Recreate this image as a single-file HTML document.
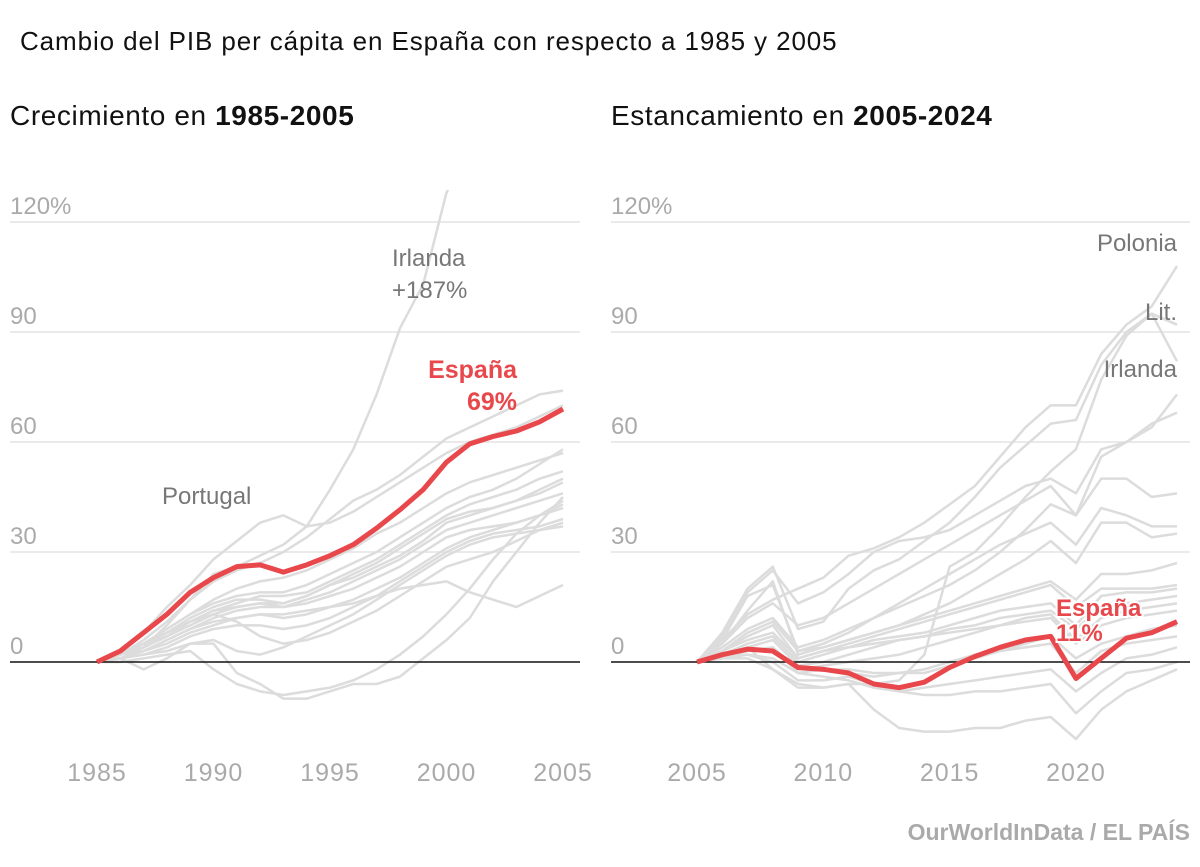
<!DOCTYPE html>
<html><head><meta charset="utf-8"><style>
body{margin:0;background:#fff;width:1200px;height:867px;overflow:hidden;font-family:"Liberation Sans",sans-serif}
svg{position:absolute;left:0;top:0}
</style></head><body>
<svg id="chart" width="1200" height="867">
<text x="20" y="50" font-size="26" letter-spacing="0.9" fill="#111">Cambio del PIB per cápita en España con respecto a 1985 y 2005</text>
<text x="10" y="125" font-size="28" letter-spacing="0.6" fill="#111">Crecimiento en <tspan font-weight="bold">1985-2005</tspan></text>
<text x="611" y="125" font-size="28" letter-spacing="0.6" fill="#111">Estancamiento en <tspan font-weight="bold">2005-2024</tspan></text>
<text x="1190" y="840" font-size="23" font-weight="bold" fill="#aaa" text-anchor="end">OurWorldInData / EL PAÍS</text>
<g id="left"></g><g id="right"></g>
</svg>
<script>
const yTicks=[0,30,60,90,120];
const yTickLabels=["0","30","60","90","120%"];
const leftYears=[1985,1986,1987,1988,1989,1990,1991,1992,1993,1994,1995,1996,1997,1998,1999,2000,2001,2002,2003,2004,2005];
const leftXTicks=[1985,1990,1995,2000,2005];
const leftSpain=[0,3,8,13,19,23,26,26.5,24.5,26.5,29,32,36.5,41.5,47,54.5,59.5,61.5,63,65.5,69];
const leftIreland=[0,2,4,10,17,24,26,29,32,37,47,58,73,91,103,128,140,150,160,175,187];
const leftPortugal=[0,3,8,15,21,28,33,38,40,37,38,41,45,49,53,57,60,62,64,67,70];
const leftGrey=[
[0,2,6,11,17,22,25,27,30,34,39,44,47,51,56,61,64,67,70,73,74],
[0,2,5,9,13,16,18,19,19,21,24,27,30,34,38,42,45,47,50,54,58],
[0,1,4,8,12,15,17,17,16,18,21,24,27,31,35,39,41,42,44,47,50],
[0,2,5,8,11,14,15,16,16,18,21,23,26,29,33,38,40,42,44,46,49],
[0,1,3,6,9,12,14,15,15,17,19,22,25,28,32,36,38,40,42,44,46],
[0,2,4,7,10,13,15,16,15,16,18,20,23,26,30,34,36,37,38,40,42],
[0,1,3,5,8,10,12,13,12,13,15,17,20,23,27,31,34,36,38,40,44],
[0,1,2,4,7,9,10,10,9,10,12,15,18,22,26,30,33,35,36,37,39],
[0,1,-2,1,5,6,3,2,4,7,10,13,17,21,25,29,32,34,35,36,37],
[0,2,4,8,11,13,11,7,5,6,8,11,14,18,22,26,28,30,33,36,38],
[0,1,3,6,9,11,12,13,13,14,15,16,18,20,21,22,19,17,15,18,21],
[0,1,2,3,5,5,-3,-6,-10,-10,-8,-6,-6,-4,1,6,12,22,30,38,45],
[0,0,1,2,3,-2,-6,-8,-9,-8,-7,-5,-2,2,7,13,20,28,35,40,43],
[0,2,5,9,13,17,20,22,23,25,28,31,35,38,42,46,49,51,53,55,57],
[0,1,4,7,11,14,16,18,18,19,22,25,28,32,36,40,43,45,47,50,52]];
const rightYears=[2005,2006,2007,2008,2009,2010,2011,2012,2013,2014,2015,2016,2017,2018,2019,2020,2021,2022,2023,2024];
const rightXTicks=[2005,2010,2015,2020];
const rightSpain=[0,2,3.5,3,-1.5,-2,-3,-6,-7,-5.5,-1.5,1.5,4,6,7,-4.5,1,6.5,8,11];
const rightPoland=[0,6,13,17,20,23,29,31,34,38,43,48,56,64,70,70,84,92,97,108];
const rightLit=[0,8,20,26,9,11,20,25,28,33,38,45,53,59,65,66,81,90,95,92];
const rightIreland=[0,2,4,-2,-6,-7,-6,-6,-5,2,26,30,37,45,52,58,77,89,95,82];
const rightGrey=[
[0,7,19,25,16,19,24,30,33,34,36,40,44,48,50,46,58,60,64,73],
[0,5,12,16,10,12,16,20,24,28,32,36,40,44,48,40,56,60,65,68],
[0,6,18,21,3,5,8,12,15,18,21,25,30,36,43,40,50,50,45,46],
[0,4,9,12,4,6,9,12,16,20,24,28,32,35,38,32,42,40,37,37],
[0,3,8,11,3,4,6,8,10,13,16,20,24,28,33,27,38,38,34,35],
[0,5,14,22,2,4,6,8,10,12,14,16,18,20,22,17,24,24,25,27],
[0,3,7,10,1,3,5,7,9,11,13,15,17,19,21,15,20,20,20,21],
[0,2,5,7,0,2,4,6,7,8,10,12,14,15,16,10,18,19,19,20],
[0,3,6,8,1,3,4,5,6,7,9,10,12,13,14,9,15,16,17,18],
[0,2,4,6,-1,0,2,4,6,7,8,9,10,12,13,6,12,14,15,16],
[0,1,3,4,-2,-1,0,1,2,4,6,8,10,11,12,5,10,12,13,14],
[0,1,3,4,-3,-2,-3,-4,-3,-2,0,2,3,4,5,-3,3,5,6,7],
[0,1,2,1,-3,-4,-5,-7,-8,-7,-6,-5,-4,-3,-2,-8,-3,1,2,4],
[0,1,2,0,-5,-5,-4,-6,-8,-9,-9,-8,-8,-7,-6,-14,-8,-3,-2,0],
[0,1,1,-2,-7,-7,-6,-13,-18,-19,-19,-18,-18,-16,-15,-21,-13,-8,-5,-2],
[0,2,4,3,-2,-2,-2,-3,-3,-3,-1,1,3,5,7,1,5,7,9,10]];
const NS="http://www.w3.org/2000/svg";
function el(tag,attrs,parent){const e=document.createElementNS(NS,tag);for(const k in attrs)e.setAttribute(k,attrs[k]);parent.appendChild(e);return e;}
function yScale(v){return 662-v*(110/30);}
function panel(g,x0,x1,gridL,gridR,years,xTicks,spain,grey,named,pfx){
  const xs=y=>x0+(y-years[0])*(x1-x0)/(years[years.length-1]-years[0]);
  yTicks.forEach((t,i)=>{
    if(t!==0){const l=el('line',{x1:gridL,x2:gridR,y1:yScale(t),y2:yScale(t),stroke:'#e3e3e3','stroke-width':1.5},g);
    
    }
    const tx=el('text',{x:gridL,y:yScale(t)-8,'font-size':24,fill:'#aaa'},g);tx.textContent=yTickLabels[i];
    
    
  });
  xTicks.forEach(t=>{const tx=el('text',{x:xs(t),y:781,'font-size':25,'letter-spacing':1,fill:'#aaa','text-anchor':'middle'},g);tx.textContent=t;
    
    });
  const cp=el('clipPath',{id:pfx+'clip'},g);el('rect',{x:0,y:190,width:1200,height:600},cp);
  const line=(vals,color,w,name)=>{const p=el('polyline',{points:vals.map((v,i)=>xs(years[i])+','+yScale(v)).join(' '),fill:'none',stroke:color,'stroke-width':w,'stroke-linejoin':'round','clip-path':'url(#'+pfx+'clip)'},g);
    
    };
  grey.forEach((s,i)=>line(s,'#dcdcdc',2.5,pfx+'-country-line-'+i));
  named.forEach(n=>line(n[0],'#dcdcdc',2.5,n[1]));
  const z=el('line',{x1:gridL,x2:gridR,y1:662,y2:662,stroke:'#111','stroke-width':1.5},g);
  
  
  line(spain,'#e8474b',5,pfx+'-spain-line');
}
const L=document.getElementById('left'),R=document.getElementById('right');
panel(L,97,563,10,580,leftYears,leftXTicks,leftSpain,leftGrey,[[leftIreland,'left-ireland-line'],[leftPortugal,'left-portugal-line']],'left');
panel(R,697,1177,611,1190,rightYears,rightXTicks,rightSpain,rightGrey,[[rightPoland,'right-poland-line'],[rightLit,'right-lithuania-line'],[rightIreland,'right-ireland-line']],'right');
function label(g,x,y,txt,opts,name){const t=el('text',Object.assign({x:x,y:y,'font-size':24,fill:'#777'},opts),g);t.textContent=txt;
  
  }
label(L,392,266,'Irlanda',{},'ireland-label');
label(L,392,298,'+187%',{},'ireland-value-label');
label(L,162,504,'Portugal',{},'portugal-label');
label(L,517,378,'España',{fill:'#e8474b','font-weight':'bold','text-anchor':'end','font-size':25},'spain-label-left');
label(L,517,410,'69%',{fill:'#e8474b','font-weight':'bold','text-anchor':'end','font-size':25},'spain-value-left');
label(R,1177,251,'Polonia',{'text-anchor':'end'},'poland-label');
label(R,1177,320,'Lit.',{'text-anchor':'end'},'lithuania-label');
label(R,1177,377,'Irlanda',{'text-anchor':'end'},'ireland-label-right');
label(R,1056,616,'España',{fill:'#e8474b','font-weight':'bold','font-size':24,stroke:'#fff','stroke-width':4,'paint-order':'stroke'},'spain-label-right');
label(R,1056,641,'11%',{fill:'#e8474b','font-weight':'bold','font-size':24,stroke:'#fff','stroke-width':4,'paint-order':'stroke'},'spain-value-right');
</script>
</body></html>
